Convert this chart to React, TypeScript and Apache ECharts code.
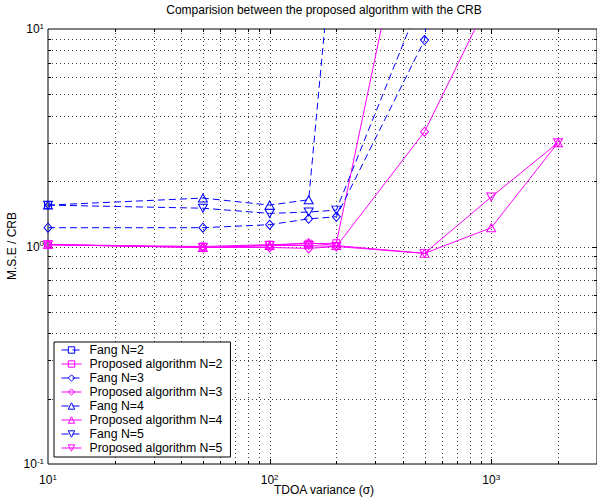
import React, { useEffect, useRef } from 'react';
import * as echarts from 'echarts';

// ---- data ----
const X_VALUES = [10, 50, 100, 150, 200, 500, 1000, 2000];
const FANG_N2 = [1.55, null, null, null, null, null, null, null];
const PROP_N2 = [1.02, 1.0, 1.02, 1.03, 1.035, 90, null, null];
const FANG_N3 = [1.22, 1.22, 1.26, 1.34, 1.37, 8.9, 10000, null];
const PROP_N3 = [1.02, 0.99, 0.99, 0.98, 1.0, 3.37, 14.2, null];
const FANG_N4 = [1.55, 1.67, 1.55, 1.64, 38, null, null, null];
const PROP_N4 = [1.02, 0.99, 1.01, 1.04, 1.01, 0.93, 1.22, 3.0];
const FANG_N5 = [1.55, 1.5, 1.42, 1.44, 1.47, 15, null, null];
const PROP_N5 = [1.02, 0.99, 1.01, 1.01, 1.0, 0.93, 1.69, 3.0];

const SERIES_NAMES = [
  'Fang N=2', 'Proposed algorithm N=2',
  'Fang N=3', 'Proposed algorithm N=3',
  'Fang N=4', 'Proposed algorithm N=4',
  'Fang N=5', 'Proposed algorithm N=5',
];

const X_MIN = 10;
const X_MAX = 3000;
const Y_MIN = 0.1;
const Y_MAX = 10;
const X_GRID = [20, 30, 40, 50, 60, 70, 80, 90, 100, 200, 300, 400, 500, 600, 700, 800, 900, 1000, 2000];
const Y_GRID = [0.2, 0.3, 0.4, 0.5, 0.6, 0.7, 0.8, 0.9, 1, 2, 3, 4, 5, 6, 7, 8, 9];
const X_MAJOR = [100, 1000];
const Y_MAJOR = [1];

const TITLE = 'Comparision between the proposed algorithm with the CRB';
const X_TITLE = 'TDOA variance (σ)';
const Y_TITLE = 'M.S.E / CRB';

const FONT = "'Liberation Sans', Arial, Helvetica, sans-serif";
const BLUE = '#0000ff';
const MAGENTA = '#ff00ff';
const GRID_COLOR = '#444';
const INV_TRI = 'path://M0,0L10,0L5,10Z';
const CLEAR = 'rgba(255,255,255,0)';

function pair(vals: (number | null)[]) {
  return X_VALUES.map((x, i) => [x, vals[i]]);
}

function lineSeries(name: string, vals: (number | null)[], fang: boolean, symbol: string, size: number | number[]) {
  const color = fang ? BLUE : MAGENTA;
  return {
    name,
    type: 'line',
    data: pair(vals),
    symbol,
    symbolSize: size,
    clip: true,
    z: 3,
    lineStyle: { color, width: 1, type: fang ? [7, 4] : 'solid' },
    itemStyle: { color: CLEAR, borderColor: color, borderWidth: 1 },
    emphasis: { disabled: true },
  };
}

function logLabel(value: number) {
  const l = Math.log10(value);
  const e = Math.round(l);
  if (Math.abs(l - e) > 1e-6) return '';
  return '{b|10}{s|' + e + '}';
}

const labelRich = {
  b: { fontSize: 12, fontFamily: FONT, color: '#000', lineHeight: 14 },
  s: { fontSize: 8, fontFamily: FONT, color: '#000', lineHeight: 8, verticalAlign: 'top' },
};

export default function App() {
  const ref = useRef<HTMLDivElement>(null);
  useEffect(() => {
    const chart = echarts.init(ref.current as HTMLDivElement, undefined, { renderer: 'svg' });
    const option: any = {
      animation: false,
      backgroundColor: '#fff',
      grid: { show: true, borderColor: '#000', borderWidth: 1, left: 48, top: 29, right: -2, bottom: 36, backgroundColor: 'transparent' },
      xAxis: {
        type: 'log', logBase: 10, min: X_MIN, max: X_MAX,
        axisLine: { show: false }, axisTick: { show: false }, splitLine: { show: false },
        axisLabel: { formatter: logLabel, rich: labelRich, margin: 9, showMaxLabel: false },
      },
      yAxis: {
        type: 'log', logBase: 10, min: Y_MIN, max: Y_MAX,
        axisLine: { show: false }, axisTick: { show: false }, splitLine: { show: false },
        axisLabel: { formatter: logLabel, rich: labelRich, margin: 4 },
      },
      legend: {
        data: SERIES_NAMES,
        orient: 'vertical', left: 54, top: 342,
        backgroundColor: '#fff', borderColor: '#000', borderWidth: 1,
        padding: [1, 8, 2, 7],
        itemWidth: 20, itemHeight: 8, itemGap: 0,
        selectedMode: false,
        itemStyle: { color: CLEAR, borderWidth: 1 },
        lineStyle: { width: 1 },
        textStyle: { fontSize: 12.3, fontFamily: FONT, color: '#000', lineHeight: 14, padding: [0, 0, 0, 3] },
      },
      graphic: [
        { type: 'text', x: 324, y: 10, style: { text: TITLE, fontSize: 12, fontFamily: FONT, fill: '#000', align: 'center', verticalAlign: 'middle' } },
        { type: 'text', x: 324, y: 490, style: { text: X_TITLE, fontSize: 12, fontFamily: FONT, fill: '#000', align: 'center', verticalAlign: 'middle' } },
        { type: 'text', x: 12, y: 246, rotation: Math.PI / 2, style: { text: Y_TITLE, fontSize: 12, fontFamily: FONT, fill: '#000', align: 'center', verticalAlign: 'middle' } },
      ],
      series: [
        {
          type: 'custom', name: 'xgrid', silent: true, z: 1, clip: false,
          data: X_GRID.map((v) => [v, 1]),
          renderItem: (params: any, api: any) => {
            const v = api.value(0);
            const top = api.coord([v, Y_MAX]);
            const bot = api.coord([v, Y_MIN]);
            const x = Math.round(top[0]) + 0.5;
            const len = X_MAJOR.includes(v) ? 5 : 3;
            return {
              type: 'group',
              children: [
                { type: 'line', shape: { x1: x, y1: top[1], x2: x, y2: bot[1] }, style: { stroke: GRID_COLOR, lineWidth: 1, lineDash: [1, 3] } },
                { type: 'line', shape: { x1: x, y1: bot[1], x2: x, y2: bot[1] - len }, style: { stroke: '#000', lineWidth: 1 } },
                { type: 'line', shape: { x1: x, y1: top[1], x2: x, y2: top[1] + len }, style: { stroke: '#000', lineWidth: 1 } },
              ],
            };
          },
        },
        {
          type: 'custom', name: 'ygrid', silent: true, z: 1, clip: false,
          data: Y_GRID.map((v) => [X_MIN, v]),
          renderItem: (params: any, api: any) => {
            const v = api.value(1);
            const l = api.coord([X_MIN, v]);
            const r = api.coord([X_MAX, v]);
            const y = Math.round(l[1]) + 0.5;
            const len = Y_MAJOR.includes(v) ? 5 : 3;
            return {
              type: 'group',
              children: [
                { type: 'line', shape: { x1: l[0], y1: y, x2: r[0], y2: y }, style: { stroke: GRID_COLOR, lineWidth: 1, lineDash: [1, 3] } },
                { type: 'line', shape: { x1: l[0], y1: y, x2: l[0] + len, y2: y }, style: { stroke: '#000', lineWidth: 1 } },
                { type: 'line', shape: { x1: r[0], y1: y, x2: r[0] - len, y2: y }, style: { stroke: '#000', lineWidth: 1 } },
              ],
            };
          },
        },
        lineSeries(SERIES_NAMES[0], FANG_N2, true, 'rect', 7),
        lineSeries(SERIES_NAMES[1], PROP_N2, false, 'rect', 7),
        lineSeries(SERIES_NAMES[2], FANG_N3, true, 'diamond', [8, 9]),
        lineSeries(SERIES_NAMES[3], PROP_N3, false, 'diamond', [8, 9]),
        lineSeries(SERIES_NAMES[4], FANG_N4, true, 'triangle', [9, 8]),
        lineSeries(SERIES_NAMES[5], PROP_N4, false, 'triangle', [9, 8]),
        lineSeries(SERIES_NAMES[6], FANG_N5, true, INV_TRI, [9, 8]),
        lineSeries(SERIES_NAMES[7], PROP_N5, false, INV_TRI, [9, 8]),
      ],
    };
    chart.setOption(option);
    return () => chart.dispose();
  }, []);
  return (
    <div
      ref={ref}
      style={{ position: 'absolute', left: 0, top: 0, width: 597, height: 500, background: '#fff' }}
    />
  );
}
